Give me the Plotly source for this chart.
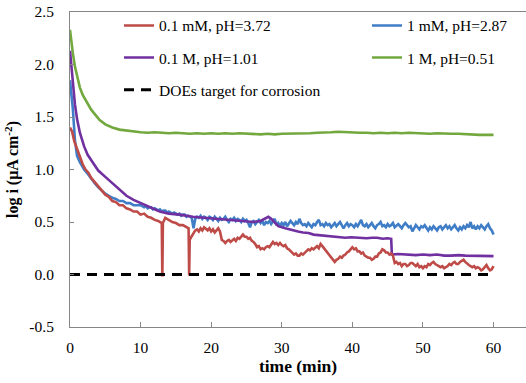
import numpy as np
import plotly.graph_objects as go

# Time (min) and log current density for each electrolyte
green_time = [0, 0.2, 0.4, 0.7, 1.0, 1.4, 1.8, 2.4, 3.0, 3.6, 4.2, 5.0, 6.0, 7.0, 8.0, 9.0, 10.0,
              11, 12, 13, 14, 15, 16, 17, 18, 19, 20, 21, 22, 23, 24, 25, 26, 27, 28, 29, 30,
              31, 32, 33, 34, 35, 36, 37, 38, 39, 40, 41, 42, 43, 44, 45, 46, 47, 48, 49, 50,
              51, 52, 53, 54, 55, 56, 57, 58, 59, 60]
green_logi = [2.33, 2.20, 2.11, 1.98, 1.88, 1.78, 1.71, 1.64, 1.57, 1.52, 1.47, 1.43, 1.40, 1.38, 1.37, 1.36, 1.355,
              1.35, 1.355, 1.35, 1.345, 1.35, 1.345, 1.34, 1.345, 1.34, 1.345, 1.34, 1.345, 1.34, 1.345, 1.34, 1.34, 1.335, 1.34, 1.335, 1.34,
              1.34, 1.345, 1.34, 1.345, 1.35, 1.35, 1.355, 1.36, 1.355, 1.355, 1.35, 1.35, 1.345, 1.35, 1.345, 1.35, 1.345, 1.35, 1.345, 1.345,
              1.34, 1.345, 1.34, 1.34, 1.34, 1.335, 1.335, 1.33, 1.33, 1.33]

purple_time = [0, 0.2, 0.4, 0.7, 1.0, 1.4, 2.0, 2.5, 3.3, 4.0, 5.0, 5.7, 7.0, 8.0, 9.0, 10.0, 11.0,
               12.7, 14, 15.5, 17.4, 19, 20.5, 22, 24, 26, 27.0, 27.6, 28.1, 28.5, 29.0, 29.5, 30.5,
               31.5, 32.3, 33, 33.8, 34.5, 35.3, 36, 36.8, 37.5, 38.3, 39, 39.8, 40.5, 41.3, 42, 42.8,
               43.5, 44.3, 45.0, 45.5, 45.6, 46.5, 47.3, 48, 49, 50, 51, 52, 53, 54, 55, 56, 57, 58, 59, 60]
purple_logi = [2.13, 1.96, 1.80, 1.62, 1.48, 1.35, 1.22, 1.14, 1.06, 0.99, 0.93, 0.89, 0.81, 0.75, 0.71, 0.68, 0.65,
               0.60, 0.58, 0.57, 0.55, 0.54, 0.53, 0.52, 0.51, 0.50, 0.51, 0.53, 0.55, 0.53, 0.49, 0.46, 0.44,
               0.42, 0.41, 0.40, 0.395, 0.38, 0.375, 0.37, 0.365, 0.36, 0.355, 0.35, 0.355, 0.35, 0.345, 0.345, 0.35,
               0.35, 0.34, 0.345, 0.34, 0.19, 0.195, 0.19, 0.19, 0.185, 0.19, 0.185, 0.19, 0.18, 0.18, 0.185, 0.18,
               0.18, 0.175, 0.18, 0.175]

blue_time_start = [0, 0.2, 0.4, 0.7, 1.0, 1.4, 2.0, 2.5, 3.0, 3.5, 4.0, 4.5, 5.0, 5.5, 6.0, 6.5,
                   7.0, 7.5, 8.0, 8.5, 9.0, 9.5]
blue_logi_start = [1.85, 1.74, 1.58, 1.28, 1.13, 1.07, 1.00, 0.96, 0.91, 0.87, 0.83, 0.80, 0.77, 0.75, 0.73, 0.72,
                   0.70, 0.70, 0.68, 0.68, 0.66, 0.66]
# sampled every 0.25 min from 10 to 60 min
blue_logi_rest = [0.66, 0.65, 0.64, 0.65, 0.63, 0.64, 0.64, 0.62, 0.63, 0.62,
                  0.61, 0.62, 0.60, 0.61, 0.61, 0.59, 0.60, 0.59, 0.58, 0.59,
                  0.58, 0.57, 0.58, 0.56, 0.57, 0.57, 0.55, 0.56, 0.55, 0.54,
                  0.44, 0.53, 0.55, 0.54, 0.56, 0.53, 0.55, 0.54, 0.52, 0.55,
                  0.54, 0.52, 0.55, 0.53, 0.51, 0.54, 0.52, 0.53, 0.55, 0.52,
                  0.50, 0.53, 0.52, 0.54, 0.51, 0.53, 0.52, 0.50, 0.53, 0.51,
                  0.52, 0.49, 0.45, 0.50, 0.51, 0.48, 0.50, 0.52, 0.49, 0.51,
                  0.47, 0.50, 0.49, 0.51, 0.48, 0.50, 0.53, 0.47, 0.49, 0.46,
                  0.49, 0.47, 0.50, 0.46, 0.48, 0.51, 0.49, 0.47, 0.50, 0.48,
                  0.53, 0.49, 0.47, 0.48, 0.46, 0.49, 0.47, 0.45, 0.48, 0.47,
                  0.50, 0.52, 0.47, 0.48, 0.46, 0.49, 0.47, 0.48, 0.45, 0.47,
                  0.49, 0.46, 0.48, 0.50, 0.47, 0.44, 0.47, 0.49, 0.46, 0.48,
                  0.47, 0.45, 0.48, 0.46, 0.49, 0.52, 0.47, 0.46, 0.48, 0.45,
                  0.47, 0.49, 0.46, 0.44, 0.47, 0.48, 0.50, 0.46, 0.47, 0.45,
                  0.48, 0.46, 0.47, 0.49, 0.45, 0.47, 0.48, 0.46, 0.44, 0.47,
                  0.49, 0.47, 0.45, 0.46, 0.41, 0.44, 0.47, 0.45, 0.43, 0.46,
                  0.45, 0.47, 0.44, 0.42, 0.45, 0.43, 0.46, 0.44, 0.42, 0.45,
                  0.46, 0.43, 0.45, 0.47, 0.44, 0.46, 0.43, 0.45, 0.47, 0.44,
                  0.42, 0.45, 0.43, 0.46, 0.44, 0.47, 0.45, 0.50, 0.44, 0.46,
                  0.43, 0.46, 0.44, 0.47, 0.45, 0.43, 0.46, 0.48, 0.44, 0.42,
                  0.38]

red_time_start = [0, 0.3, 0.6, 1.0, 1.4, 1.8, 2.2, 2.6, 3.0, 3.5, 4.0, 4.5, 5.0, 5.5, 6.0, 6.5,
                  7.0, 7.5, 8.0, 8.5, 9.0, 9.5, 10.0, 10.5, 11.0, 11.5, 12.0, 12.5, 12.9, 13.0,
                  13.08, 13.16, 13.5, 14.0, 14.5, 15.0, 15.5, 16.0, 16.5, 16.8, 16.88, 16.96, 17.2]
red_logi_start = [1.40, 1.36, 1.27, 1.19, 1.12, 1.05, 1.00, 0.97, 0.92, 0.88, 0.83, 0.80, 0.76, 0.74, 0.70, 0.69,
                  0.66, 0.66, 0.63, 0.62, 0.60, 0.60, 0.57, 0.58, 0.55, 0.54, 0.52, 0.51, 0.50, 0.49,
                  -0.02, 0.49, 0.54, 0.52, 0.50, 0.49, 0.47, 0.47, 0.45, 0.44, -0.01, 0.33, 0.36]
# sampled every 0.25 min from 17.5 to 60 min
red_logi_rest = [0.40, 0.42, 0.43, 0.41, 0.44, 0.42, 0.45, 0.43, 0.42, 0.44,
                 0.41, 0.43, 0.40, 0.42, 0.44, 0.41, 0.33, 0.32, 0.30, 0.32,
                 0.33, 0.31, 0.33, 0.34, 0.32, 0.35, 0.34, 0.36, 0.38, 0.36,
                 0.36, 0.34, 0.35, 0.32, 0.31, 0.29, 0.26, 0.27, 0.24, 0.25,
                 0.24, 0.26, 0.27, 0.26, 0.29, 0.31, 0.29, 0.30, 0.28, 0.30,
                 0.28, 0.27, 0.28, 0.25, 0.24, 0.22, 0.21, 0.19, 0.20, 0.18,
                 0.18, 0.20, 0.19, 0.21, 0.22, 0.24, 0.23, 0.25, 0.24, 0.26,
                 0.27, 0.25, 0.29, 0.27, 0.25, 0.22, 0.21, 0.18, 0.16, 0.14,
                 0.12, 0.14, 0.15, 0.17, 0.16, 0.18, 0.19, 0.21, 0.22, 0.24,
                 0.26, 0.24, 0.25, 0.22, 0.22, 0.20, 0.21, 0.18, 0.17, 0.16,
                 0.16, 0.14, 0.15, 0.17, 0.17, 0.20, 0.21, 0.24, 0.23, 0.21,
                 0.21, 0.19, 0.20, 0.18, 0.11, 0.12, 0.10, 0.11, 0.08, 0.10,
                 0.10, 0.08, 0.09, 0.11, 0.11, 0.09, 0.08, 0.10, 0.07, 0.08,
                 0.06, 0.08, 0.07, 0.10, 0.09, 0.11, 0.12, 0.10, 0.09, 0.08,
                 0.07, 0.08, 0.06, 0.07, 0.08, 0.10, 0.09, 0.11, 0.12, 0.10,
                 0.10, 0.12, 0.13, 0.14, 0.12, 0.10, 0.09, 0.08, 0.07, 0.08,
                 0.06, 0.07, 0.06, 0.04, 0.05, 0.07, 0.09, 0.06, 0.04, 0.05,
                 0.08]

target_time = [0, 60]
target_logi = [0, 0]

x_ticks = [0, 10, 20, 30, 40, 50, 60]
y_ticks = [-0.5, 0.0, 0.5, 1.0, 1.5, 2.0, 2.5]
y_tick_labels = ["-0.5", "0.0", "0.5", "1.0", "1.5", "2.0", "2.5"]

blue_time = blue_time_start + [float(t) for t in np.arange(10.0, 60.001, 0.25)]
blue_logi = blue_logi_start + blue_logi_rest
red_time = red_time_start + [float(t) for t in np.arange(17.5, 60.001, 0.25)]
red_logi = red_logi_start + red_logi_rest
assert len(blue_time) == len(blue_logi)
assert len(red_time) == len(red_logi)
assert len(green_time) == len(green_logi)
assert len(purple_time) == len(purple_logi)

FONT = "Liberation Serif, Times New Roman, serif"
W = 2.6

fig = go.Figure()
fig.add_trace(go.Scatter(x=green_time, y=green_logi, mode="lines", name="1 M, pH=0.51",
                         line=dict(color="#72A83E", width=W), legend="legend2", legendrank=2))
fig.add_trace(go.Scatter(x=blue_time, y=blue_logi, mode="lines", name="1 mM, pH=2.87",
                         line=dict(color="#3F7DC6", width=W), legend="legend2", legendrank=1))
fig.add_trace(go.Scatter(x=purple_time, y=purple_logi, mode="lines", name="0.1 M, pH=1.01",
                         line=dict(color="#7030A0", width=W), legendrank=2))
fig.add_trace(go.Scatter(x=red_time, y=red_logi, mode="lines", name="0.1 mM, pH=3.72",
                         line=dict(color="#BE4B48", width=W), legendrank=1))
fig.add_trace(go.Scatter(x=target_time, y=target_logi, mode="lines", name="DOEs target for corrosion",
                         line=dict(color="#000000", width=3, dash="10px,7px"), legendrank=3))
for tr in fig.data:
    tr.legendgroup = tr.name

legend_common = dict(font=dict(family=FONT, size=15.5, color="#000000"), bgcolor="rgba(0,0,0,0)",
                     orientation="v", tracegroupgap=9, traceorder="grouped",
                     xanchor="left", yanchor="top", y=1.01)

fig.update_layout(
    width=526, height=383,
    margin=dict(l=70, r=0, t=12, b=56, autoexpand=False),
    paper_bgcolor="white", plot_bgcolor="white",
    font=dict(family=FONT, size=15, color="#000000"),
    showlegend=True,
    legend=dict(x=(119 - 70) / 456, **legend_common),
    legend2=dict(x=(367 - 70) / 456, **legend_common),
    xaxis=dict(
        range=[0, 64.6], tickvals=x_ticks, ticks="inside", ticklen=5, tickcolor="#868686",
        showline=True, linecolor="#868686", linewidth=1, mirror=True, showgrid=False, zeroline=False,
        tickfont=dict(family=FONT, size=15.5), ticklabelstandoff=6,
        title=dict(text="<b>time (min)</b>", font=dict(family=FONT, size=17.5), standoff=5),
    ),
    yaxis=dict(
        range=[-0.5, 2.5], tickvals=y_ticks, ticktext=y_tick_labels, ticks="inside", ticklen=4,
        tickcolor="#868686", showline=True, linecolor="#868686", linewidth=1, showgrid=False, zeroline=False,
        tickfont=dict(family=FONT, size=15.5), ticklabelstandoff=12,
        title=dict(text="<b>log i (μA cm<sup>-2</sup>)</b>", font=dict(family=FONT, size=16), standoff=6),
    ),
)

fig.write_html("out.html")
